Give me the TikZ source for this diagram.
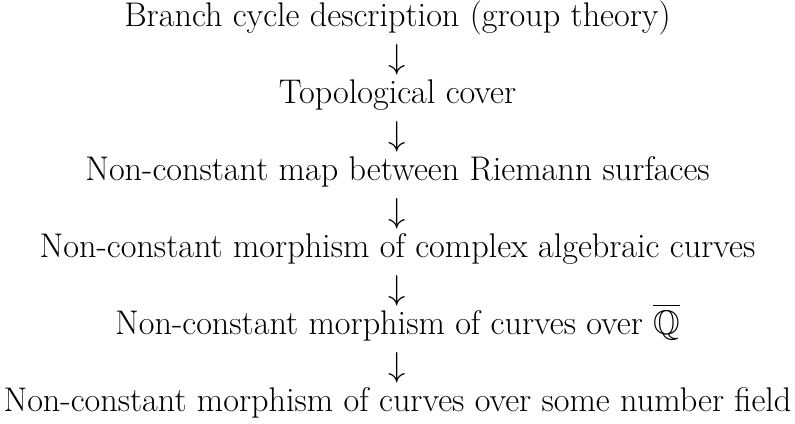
\documentclass[tikz,border=0pt]{standalone}
\usepackage{amssymb}
\begin{document}
\begin{tikzpicture}[x=0.5pt,y=-0.5pt,
  lbl/.style={anchor=base,inner sep=0pt,font=\fontsize{17.1}{20}\selectfont},
  arr/.style={anchor=base,inner sep=0pt,font=\fontsize{17.1}{20}\selectfont}]
\useasboundingbox (0,0) rectangle (795,423);
\node[lbl] (t1) at (397.5,26) {Branch cycle description (group theory)};
\node[arr] (a1) at (397.5,68) {$\downarrow$};
\node[lbl] (t2) at (397.5,103) {Topological cover};
\node[arr] (a2) at (397.5,145) {$\downarrow$};
\node[lbl] (t3) at (397.5,180) {Non-constant map between Riemann surfaces};
\node[arr] (a3) at (397.5,222) {$\downarrow$};
\node[lbl] (t4) at (397.5,257) {Non-constant morphism of complex algebraic curves};
\node[arr] (a4) at (397.5,299) {$\downarrow$};
\node[lbl] (t5) at (397.5,334) {Non-constant morphism of curves over $\overline{\mathbb{Q}}$};
\node[arr] (a5) at (397.5,376) {$\downarrow$};
\node[lbl] (t6) at (397.5,411) {Non-constant morphism of curves over some number field};
\end{tikzpicture}
\end{document}
